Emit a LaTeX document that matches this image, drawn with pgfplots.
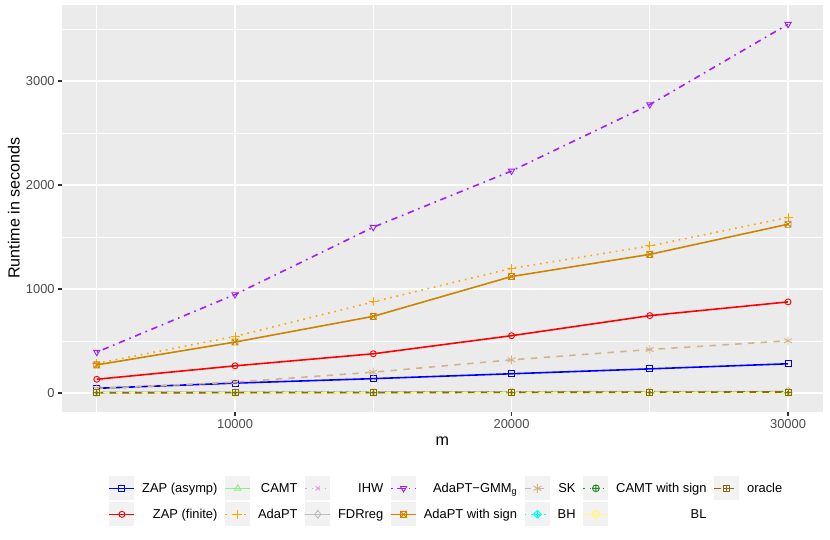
\documentclass[border=0pt]{standalone}
\usepackage{pgfplots}
\pgfplotsset{compat=1.18}
\usepackage{fontspec}
\setmainfont{Liberation Sans}
\definecolor{panelbg}{HTML}{EBEBEB}
\definecolor{keybg}{HTML}{F2F2F2}
\definecolor{tickcol}{HTML}{333333}
\definecolor{ticklab}{HTML}{4D4D4D}
\definecolor{cZA}{HTML}{0000FF}
\definecolor{cZF}{HTML}{FF0000}
\definecolor{cCAMT}{HTML}{90EE90}
\definecolor{cAda}{HTML}{FFA500}
\definecolor{cIHW}{HTML}{DDA0DD}
\definecolor{cFDR}{HTML}{BEBEBE}
\definecolor{cGMM}{HTML}{A020F0}
\definecolor{cAdaS}{HTML}{CD8500}
\definecolor{cSK}{HTML}{D2B48C}
\definecolor{cBH}{HTML}{00FFFF}
\definecolor{cCAMTS}{HTML}{228B22}
\definecolor{cBL}{HTML}{FFF68F}
\definecolor{cOr}{HTML}{8B6914}
\pgfdeclareplotmark{sqx}{%
  \pgfpathrectangle{\pgfqpoint{-\pgfplotmarksize}{-\pgfplotmarksize}}{\pgfqpoint{2\pgfplotmarksize}{2\pgfplotmarksize}}%
  \pgfpathmoveto{\pgfqpoint{-\pgfplotmarksize}{-\pgfplotmarksize}}\pgfpathlineto{\pgfqpoint{\pgfplotmarksize}{\pgfplotmarksize}}%
  \pgfpathmoveto{\pgfqpoint{-\pgfplotmarksize}{\pgfplotmarksize}}\pgfpathlineto{\pgfqpoint{\pgfplotmarksize}{-\pgfplotmarksize}}%
  \pgfusepathqstroke}
\pgfdeclareplotmark{sqplus}{%
  \pgfpathrectangle{\pgfqpoint{-\pgfplotmarksize}{-\pgfplotmarksize}}{\pgfqpoint{2\pgfplotmarksize}{2\pgfplotmarksize}}%
  \pgfpathmoveto{\pgfqpoint{-\pgfplotmarksize}{0pt}}\pgfpathlineto{\pgfqpoint{\pgfplotmarksize}{0pt}}%
  \pgfpathmoveto{\pgfqpoint{0pt}{\pgfplotmarksize}}\pgfpathlineto{\pgfqpoint{0pt}{-\pgfplotmarksize}}%
  \pgfusepathqstroke}
\pgfdeclareplotmark{dplus}{%
  \pgfpathmoveto{\pgfqpoint{-1.3\pgfplotmarksize}{0pt}}\pgfpathlineto{\pgfqpoint{0pt}{1.3\pgfplotmarksize}}%
  \pgfpathlineto{\pgfqpoint{1.3\pgfplotmarksize}{0pt}}\pgfpathlineto{\pgfqpoint{0pt}{-1.3\pgfplotmarksize}}\pgfpathclose
  \pgfpathmoveto{\pgfqpoint{-1.3\pgfplotmarksize}{0pt}}\pgfpathlineto{\pgfqpoint{1.3\pgfplotmarksize}{0pt}}%
  \pgfpathmoveto{\pgfqpoint{0pt}{1.3\pgfplotmarksize}}\pgfpathlineto{\pgfqpoint{0pt}{-1.3\pgfplotmarksize}}%
  \pgfusepathqstroke}
\pgfdeclareplotmark{david}{%
  \pgfpathmoveto{\pgfqpoint{0pt}{1.2\pgfplotmarksize}}\pgfpathlineto{\pgfqpoint{1.04\pgfplotmarksize}{-0.6\pgfplotmarksize}}%
  \pgfpathlineto{\pgfqpoint{-1.04\pgfplotmarksize}{-0.6\pgfplotmarksize}}\pgfpathclose
  \pgfpathmoveto{\pgfqpoint{0pt}{-1.2\pgfplotmarksize}}\pgfpathlineto{\pgfqpoint{1.04\pgfplotmarksize}{0.6\pgfplotmarksize}}%
  \pgfpathlineto{\pgfqpoint{-1.04\pgfplotmarksize}{0.6\pgfplotmarksize}}\pgfpathclose
  \pgfusepathqstroke}
\tikzset{
  ggdotted/.style={dash pattern=on 1.6pt off 4.8pt},
  ggdashed/.style={dash pattern=on 6.4pt off 6.4pt},
  ggdotdash/.style={dash pattern=on 1.6pt off 4.8pt on 6.4pt off 4.8pt},
}
\pgfplotstableread{
x     ZA   ZF   CAMT IHW FDR  GMM  AdaS Ada  SK  BH CAMTS BL Or
5000  45   132  3    4   6    393  270  285  42  1  2     1  2
10000 95   261  4    5   8    947  490  544  105 1  4     1  3
15000 138  377  5    6   9    1594 737  876  200 1  5     1  4
20000 185  551  6    7   11   2135 1120 1198 319 1  7     2  6
25000 232  744  7    8   13   2773 1333 1414 418 1  8     2  8
30000 281  876  8    9   14   3546 1623 1688 502 2  10    2  10
}\runtime
\begin{document}
\begin{tikzpicture}
\path[use as bounding box] (0,0) rectangle (830pt,539pt);
\begin{axis}[
  at={(62.2pt,127.5pt)}, anchor=south west,
  scale only axis, width=760.4pt, height=406.5pt,
  xmin=3750, xmax=31250, ymin=-178, ymax=3731,
  scaled ticks=false,
  axis background/.style={fill=panelbg},
  axis line style={draw=none},
  xtick={10000,20000,30000}, xticklabels={10000,20000,30000},
  ytick={0,1000,2000,3000}, yticklabels={0,1000,2000,3000},
  minor xtick={5000,15000,25000}, minor ytick={500,1500,2500,3500},
  grid=both,
  major grid style={white, line width=1.4pt},
  minor grid style={white, line width=0.7pt},
  tick align=outside, tick pos=left,
  major tick length=4pt, minor tick length=0pt,
  tick style={tickcol, line width=1.1pt},
  ticklabel style={font=\fontsize{12.9}{15}\selectfont, text=ticklab},
  xlabel={m}, ylabel={Runtime in seconds},
  label style={font=\fontsize{16.1}{19}\selectfont},
  xlabel style={at={(axis description cs:0.5,0)}, anchor=center, yshift=-30pt},
  ylabel style={at={(axis description cs:-0.0634,0.5)}, anchor=center},
  legend style={at={(0.504,-0.221)}, anchor=center, draw=none, fill=none,
    font=\fontsize{12.9}{15}\selectfont, column sep=7pt, row sep=2pt,
    inner sep=0pt, nodes={inner sep=0pt}},
  legend columns=2, transpose legend, legend cell align=right,
  legend image code/.code={%
    \fill[keybg, draw=none, solid] (0pt,-12pt) rectangle (25pt,12pt);
    \draw[mark repeat=2, mark phase=2, #1] plot coordinates {(0pt,0pt) (12.5pt,0pt) (25pt,0pt)};
  },
  mk/.style={mark options={solid, line width=0.9pt}},
  lw/.style={line width=1.6pt},
]
\addplot[cZA, solid, lw, mark size=3pt, mark=square, mk] table[x=x, y=ZA] {\runtime};
\addlegendentry{ZAP (asymp)}
\addplot[cZF, solid, lw, mark size=3pt, mark=o, mk] table[x=x, y=ZF] {\runtime};
\addlegendentry{ZAP (finite)}
\addplot[cCAMT, solid, lw, mark size=3.6pt, mark=triangle, mk] table[x=x, y=CAMT] {\runtime};
\addlegendentry{CAMT}
\addplot[cAda, ggdotted, lw, mark size=4.5pt, mark=+, mk] table[x=x, y=Ada] {\runtime};
\addlegendentry{AdaPT}
\addplot[cIHW, ggdotted, lw, mark size=3pt, mark=x, mk] table[x=x, y=IHW] {\runtime};
\addlegendentry{IHW}
\addplot[cFDR, solid, lw, mark size=4pt, mark=diamond, mk] table[x=x, y=FDR] {\runtime};
\addlegendentry{FDRreg}
\addplot[cGMM, ggdotdash, lw, mark size=3.6pt, mark=triangle, mark options={solid, rotate=180, line width=0.9pt}] table[x=x, y=GMM] {\runtime};
\addlegendentry{AdaPT−GMM\textsubscript{g}}
\addplot[cAdaS, solid, lw, mark size=3pt, mark=sqx, mk] table[x=x, y=AdaS] {\runtime};
\addlegendentry{AdaPT with sign}
\addplot[cSK, ggdashed, lw, mark size=4.5pt, mark=asterisk, mk] table[x=x, y=SK] {\runtime};
\addlegendentry{SK}
\addplot[cBH, ggdotted, lw, mark size=3pt, mark=dplus, mk] table[x=x, y=BH] {\runtime};
\addlegendentry{BH}
\addplot[cCAMTS, ggdotted, lw, mark size=3.4pt, mark=oplus, mk] table[x=x, y=CAMTS] {\runtime};
\addlegendentry{CAMT with sign}
\addplot[cBL, solid, lw, mark size=4pt, mark=david, mk] table[x=x, y=BL] {\runtime};
\addlegendentry{BL}
\addplot[cOr, ggdashed, lw, mark size=3pt, mark=sqplus, mk] table[x=x, y=Or] {\runtime};
\addlegendentry{oracle}
\end{axis}
\end{tikzpicture}
\end{document}
